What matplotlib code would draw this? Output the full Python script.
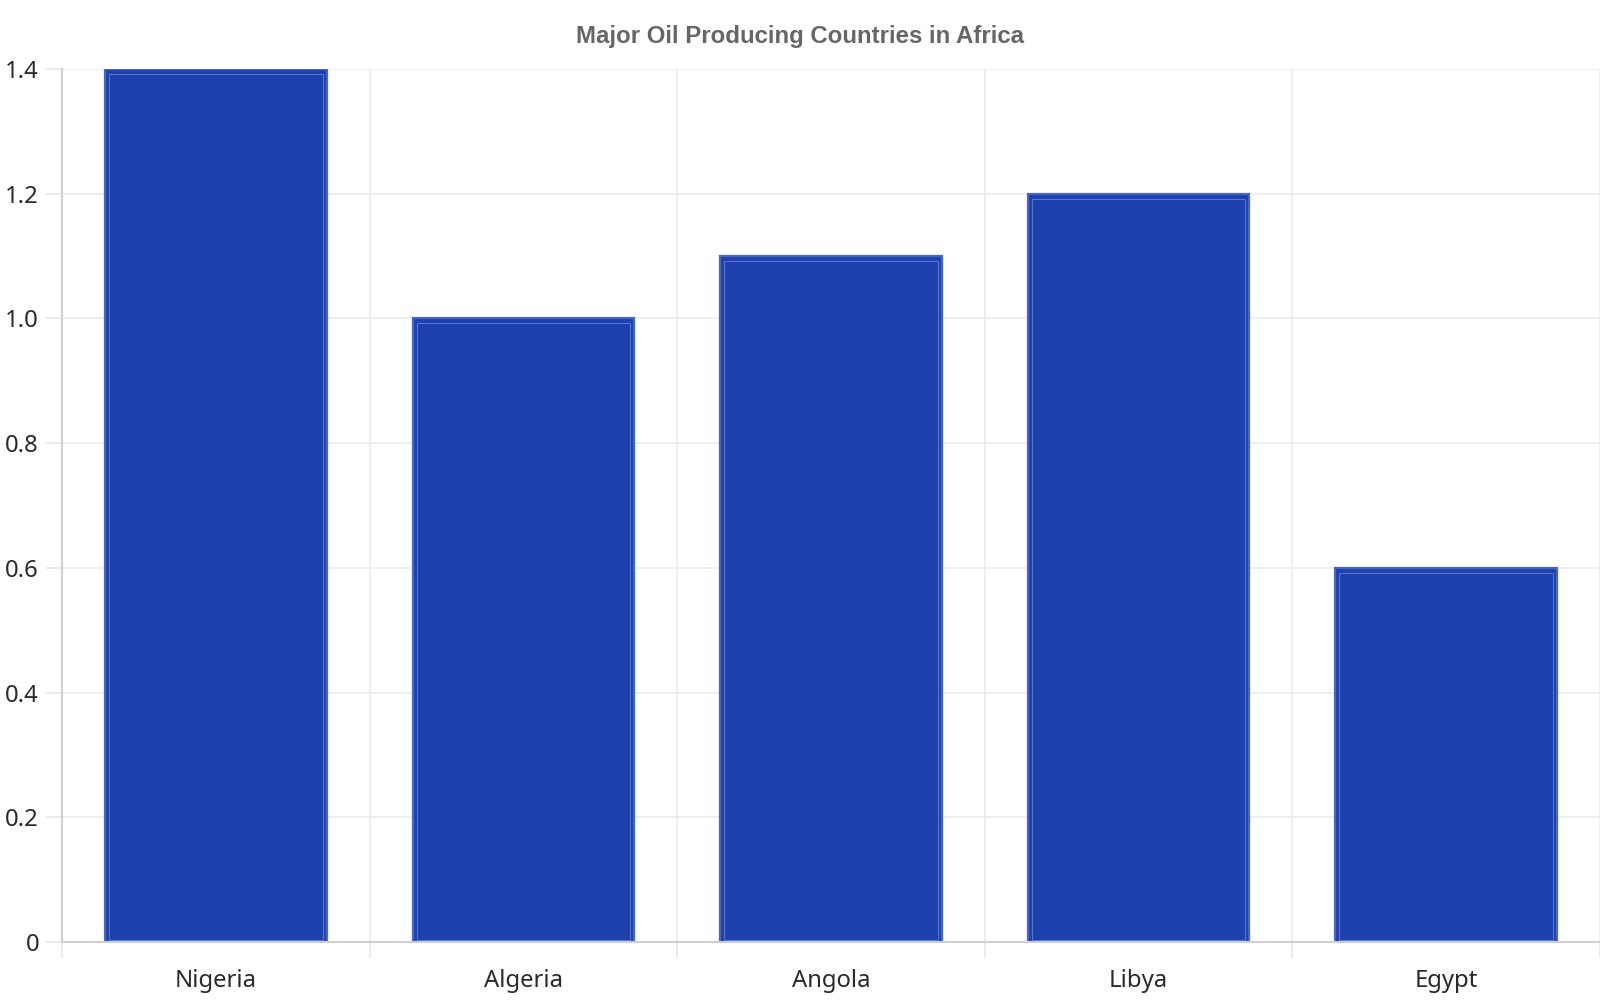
import matplotlib
matplotlib.use("Agg")
import matplotlib.pyplot as plt
from matplotlib.ticker import FixedLocator
import numpy as np

countries = ["Nigeria", "Algeria", "Angola", "Libya", "Egypt"]
production = [1.4, 1.0, 1.1, 1.2, 0.6]
y_ticks = [0, 0.2, 0.4, 0.6, 0.8, 1.0, 1.2, 1.4]
y_tick_labels = ["0", "0.2", "0.4", "0.6", "0.8", "1.0", "1.2", "1.4"]
title = "Major Oil Producing Countries in Africa"

fig = plt.figure(figsize=(16, 10), dpi=100)
ax = fig.add_axes([62/1600, 58/1000, 1 - 62/1600, (942 - 69)/1000])

x = np.arange(len(countries))
width = 0.72
ax.bar(x, production, width=width, color="#1f41ad", edgecolor="#4566c9",
       linewidth=1.6, zorder=3)
# inner highlight line
ax.bar(x, np.array(production) - 0.012, width=width - 0.026, bottom=0.004,
       color="none", edgecolor="#5673cf", linewidth=0.8, zorder=4)

ax.set_xlim(-0.5, len(countries) - 0.5)
ax.set_ylim(0, 1.4)

ax.set_yticks(y_ticks)
ax.set_yticklabels(y_tick_labels)
ax.set_xticks(x)
ax.set_xticklabels(countries)
ax.xaxis.set_minor_locator(FixedLocator(np.arange(len(countries) + 1) - 0.5))

ax.tick_params(axis="x", which="major", length=0, pad=19.5, labelsize=17.2,
               labelcolor="#2a2a2a")
ax.tick_params(axis="x", which="minor", length=11.5, width=1.2, color="#e6e6e6")
ax.tick_params(axis="y", length=11.5, width=1.2, color="#e6e6e6", pad=5,
               labelsize=17.2, labelcolor="#2a2a2a")
for lbl in ax.get_xticklabels() + ax.get_yticklabels():
    lbl.set_family(["Noto Sans", "DejaVu Sans"])

ax.grid(True, axis="y", which="major", color="#ebebeb", linewidth=1.2, zorder=0)
ax.grid(True, axis="x", which="minor", color="#ebebeb", linewidth=1.2, zorder=0)
ax.grid(False, axis="x", which="major")

for side in ["top", "right"]:
    ax.spines[side].set_visible(False)
for side in ["left", "bottom"]:
    ax.spines[side].set_color("#cfcfcf")
    ax.spines[side].set_linewidth(1.5)
    ax.spines[side].set_zorder(5)

fig.text(0.5, 1 - 36/1000, title, ha="center", va="center",
         fontsize=17.3, fontweight="bold", color="#666666",
         family=["Liberation Sans", "DejaVu Sans"])

fig.savefig("out.png", dpi=100)
